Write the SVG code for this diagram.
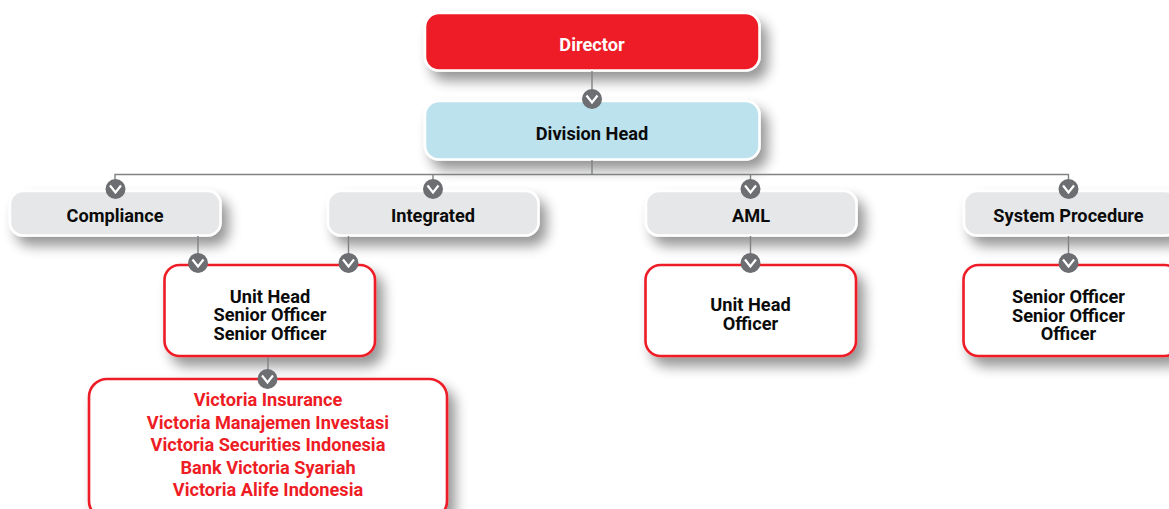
<svg xmlns="http://www.w3.org/2000/svg" width="1169" height="509" viewBox="0 0 1169 509">
<defs>
<filter id="sh" x="-20%" y="-40%" width="140%" height="200%"><feGaussianBlur in="SourceAlpha" stdDeviation="6.500"/><feOffset dx="7" dy="9"/><feComponentTransfer><feFuncA type="linear" slope="0.42"/></feComponentTransfer><feMerge><feMergeNode/><feMergeNode in="SourceGraphic"/></feMerge></filter>
<g id="chev"><circle r="10" fill="#6d6e71"/><path d="M-5.500,-3.500 L0,3.500 L5.500,-3.500" fill="none" stroke="#fff" stroke-width="2.200"/></g>
</defs>
<style>
.t{font-family:"Roboto","Liberation Sans",sans-serif;font-weight:700;font-size:18.2px;text-anchor:middle;fill:#0b0b0b}
.w{fill:#fff}.r{fill:#ee1c25}
.b{stroke:#fff;stroke-width:2.500;filter:url(#sh)}
.o{fill:#fff;stroke:#ee1c25;stroke-width:2.600;filter:url(#sh)}
.g{fill:#e6e7e8}
.c{fill:none;stroke:#808285;stroke-width:1.400}
</style>
<rect width="1169" height="509" fill="#fff"/>
<g id="n-director"><rect class="b" x="425" y="13" width="334.500" height="57.500" rx="14" fill="#ee1c25"/><text class="t w" x="592" y="50.500">Director</text></g>
<g id="n-division"><rect class="b" x="425" y="101" width="334.500" height="58.500" rx="14" fill="#bbe2ed"/><text class="t" x="592" y="139.500">Division Head</text></g>
<g id="n-compliance"><rect class="b g" x="10" y="191" width="210.500" height="44.500" rx="13"/><text class="t" x="115" y="221.500">Compliance</text></g>
<g id="n-integrated"><rect class="b g" x="328" y="191" width="210.500" height="44.500" rx="13"/><text class="t" x="433" y="221.500">Integrated</text></g>
<g id="n-aml"><rect class="b g" x="646" y="191" width="210.500" height="44.500" rx="13"/><text class="t" x="751" y="221.500">AML</text></g>
<g id="n-system"><rect class="b g" x="964" y="191" width="214" height="44.500" rx="13"/><text class="t" x="1068.500" y="221.500">System Procedure</text></g>
<g id="n-unit1"><rect class="o" x="164.500" y="265" width="210.500" height="91" rx="15"/><text class="t" x="270" y="302.500">Unit Head</text><text class="t" x="270" y="321">Senior Officer</text><text class="t" x="270" y="339.500">Senior Officer</text></g>
<g id="n-unit2"><rect class="o" x="645.500" y="265" width="210.500" height="91" rx="15"/><text class="t" x="750.500" y="310.500">Unit Head</text><text class="t" x="750.500" y="329.500">Officer</text></g>
<g id="n-unit3"><rect class="o" x="963.500" y="265" width="216" height="91" rx="15"/><text class="t" x="1068.500" y="302.500">Senior Officer</text><text class="t" x="1068.500" y="321.500">Senior Officer</text><text class="t" x="1068.500" y="339.500">Officer</text></g>
<g id="n-victoria"><rect class="o" x="89" y="379" width="358" height="140" rx="18"/>
<text class="t r" x="268" y="405.500">Victoria Insurance</text><text class="t r" x="268" y="428.500">Victoria Manajemen Investasi</text><text class="t r" x="268" y="450.500">Victoria Securities Indonesia</text><text class="t r" x="268" y="473.500">Bank Victoria Syariah</text><text class="t r" x="268" y="495.500">Victoria Alife Indonesia</text></g>
<g id="connectors">
<path class="c" d="M592,71V90M592,160V174.500M115,180V174.500H1068.500V180M433,174.500V180M750.500,174.500V180M198,236V254M348.500,236V254M750.500,236V254M1068.500,236V254M268,357V370"/>
<use href="#chev" x="592" y="99"/><use href="#chev" x="115.500" y="189"/><use href="#chev" x="433" y="189"/><use href="#chev" x="750.500" y="189"/><use href="#chev" x="1068.500" y="189"/><use href="#chev" x="198" y="263"/><use href="#chev" x="348.500" y="263"/><use href="#chev" x="750.500" y="263"/><use href="#chev" x="1068.500" y="263"/><use href="#chev" x="267.500" y="379"/>
</g>
</svg>
